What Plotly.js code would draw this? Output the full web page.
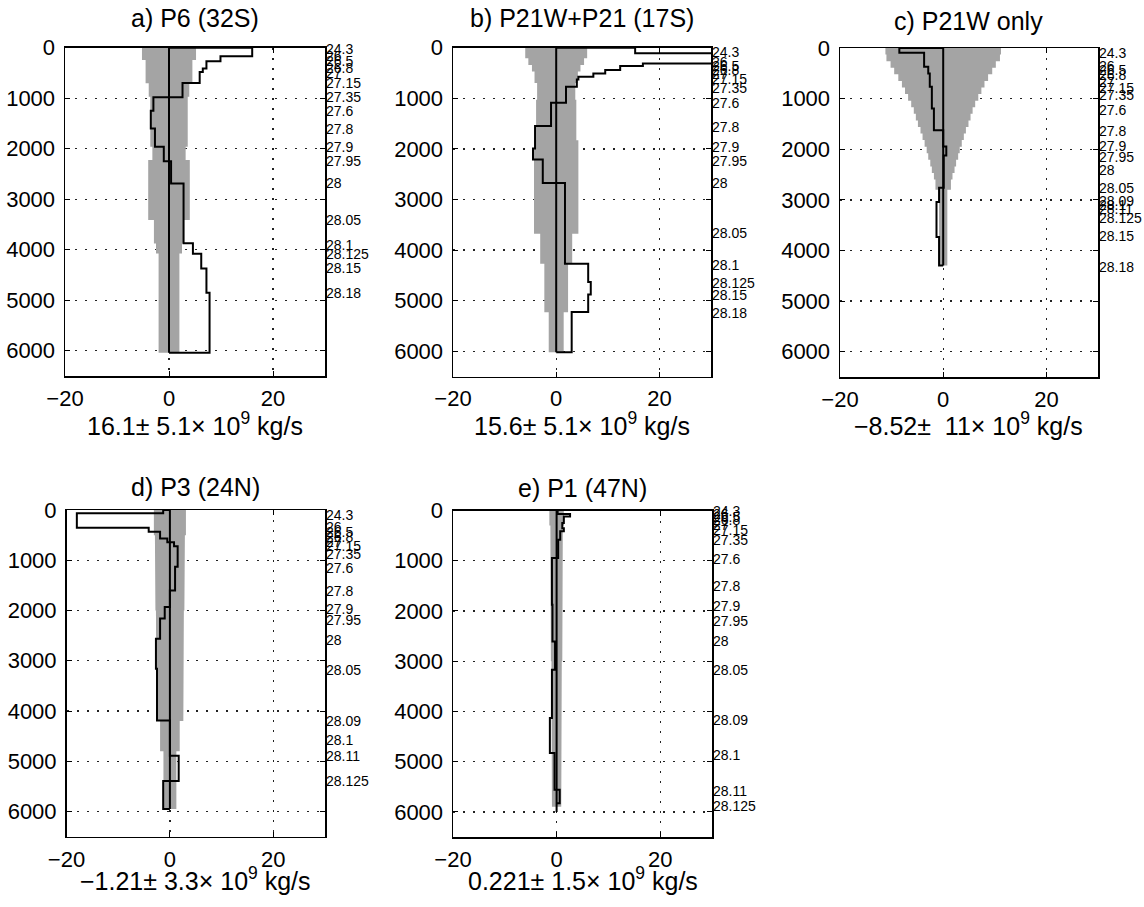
<!DOCTYPE html>
<html>
<head>
<meta charset="utf-8">
<script src="https://cdn.plot.ly/plotly-3.0.1.min.js"></script>
<style>html,body{margin:0;padding:0;background:#fff;}#chart{width:1144px;height:907px;}</style>
</head>
<body>
<div id="chart"></div>
<script>
// ---------- data ----------
const panelTitles = ['a) P6 (32S)', 'b) P21W+P21 (17S)', 'c) P21W only', 'd) P3 (24N)', 'e) P1 (47N)'];
const panelTotals = ['16.1', '15.6', '\u22128.52', '\u22121.21', '0.221'];
const panelErrors = ['5.1', '5.1', '\u00A011', '3.3', '1.5'];

const xTicks = [-20, 0, 20];
const yTicks = [0, 1000, 2000, 3000, 4000, 5000, 6000];

// layer interfaces (m) and transport per layer (10^9 kg/s)
const aBounds = [0, 170, 270, 410, 480, 700, 980, 1250, 1600, 1960, 2250, 2690, 3870, 4080, 4370, 4850, 6040];
const aFlux   = [16.0, 9.9, 7.2, 6.5, 5.9, 2.6, -3.0, -3.5, -2.7, -1.0, 0.4, 2.8, 4.6, 6.2, 7.2, 7.8];
const aErrTop  = [0, 244, 706, 970, 1960, 2225, 3413, 3875, 4073];
const aErrHalf = [5.2, 4.5, 3.9, 3.6, 3.2, 4.0, 2.9, 2.5, 2.0];
const aErrBottom = 6040;
const aZeroEnd = 6040;
const aDens = ['24.3','26','26.5','26.8','27','27.15','27.35','27.6','27.8','27.9','27.95','28','28.05','28.1','28.125','28.15','28.18'];
const aDensDepth = [32, 164, 263, 409, 508, 693, 983, 1254, 1617, 1960, 2244, 2686, 3412, 3907, 4085, 4369, 4864];

const bBounds = [0, 112, 310, 362, 442, 508, 574, 627, 772, 1089, 1550, 1992, 2210, 2673, 4270, 4633, 4877, 5227, 6020];
const bFlux   = [15.3, 38, 16.8, 12.4, 9.5, 7.2, 4.3, 4.0, 1.9, -1.0, -4.1, -4.5, -2.6, 1.7, 6.2, 6.7, 6.2, 3.0];
const bErrTop  = [0, 210, 340, 470, 700, 1030, 1830, 3680, 4270, 5230];
const bErrHalf = [6.0, 5.4, 4.7, 4.2, 3.7, 3.9, 4.3, 3.1, 2.3, 1.45];
const bErrBottom = 6020;
const bZeroEnd = 6020;
const bDens = ['24.3','26','26.5','26.8','27','27.15','27.35','27.6','27.8','27.9','27.95','28','28.05','28.1','28.125','28.15','28.18'];
const bDensDepth = [92, 277, 363, 442, 521, 620, 805, 1102, 1564, 1960, 2237, 2686, 3656, 4289, 4652, 4896, 5239];

const cBounds = [0, 93, 370, 502, 766, 1195, 1624, 1947, 2125, 2760, 3043, 3736, 4297];
const cFlux   = [-8.5, -3.7, -2.9, -2.6, -2.2, -1.8, 0.0, 0.6, 0.1, -0.8, -1.3, -0.8];
const cErrTop  = [0, 130, 260, 390, 520, 650, 780, 910, 1040, 1170, 1300, 1430, 1560, 1690, 1820, 1950, 2080, 2210, 2340, 2470, 2600, 2800];
const cErrHalf = [11.2, 11.0, 10.2, 9.5, 8.7, 8.0, 7.4, 6.8, 6.2, 5.7, 5.3, 4.9, 4.4, 4.0, 3.6, 3.2, 2.9, 2.5, 2.2, 1.8, 1.5, 0.8];
const cErrBottom = 4297;
const cZeroEnd = 4297;
const cDens = ['24.3','26','26.5','26.8','27','27.15','27.35','27.6','27.8','27.9','27.95','28','28.05','28.09','28.1','28.11','28.125','28.15','28.18'];
const cDensDepth = [92, 356, 441, 540, 673, 785, 936, 1220, 1649, 1946, 2158, 2421, 2772, 3015, 3095, 3180, 3358, 3709, 4336];

const dBounds = [0, 66, 353, 432, 565, 640, 720, 1130, 1600, 1930, 2160, 2560, 3160, 4190, 4890, 5390, 5950];
const dFlux   = [-1.3, -18.0, -4.1, -1.9, -0.5, 0.8, 1.5, 1.0, 0, -1.0, -1.9, -2.7, -2.5, 0, 1.7, -1.3];
const dErrTop  = [0, 500, 1000, 2000, 3000, 4200, 4800];
const dErrHalf = [3.1, 2.9, 2.8, 2.7, 2.6, 1.9, 1.25];
const dErrBottom = 5950;
const dZeroEnd = 5950;
const dDens = ['24.3','26','26.5','26.8','27','27.15','27.35','27.6','27.8','27.9','27.95','28','28.05','28.09','28.1','28.11','28.125'];
const dDensDepth = [100, 346, 432, 532, 632, 718, 884, 1164, 1610, 1962, 2195, 2580, 3179, 4203, 4575, 4888, 5400];

const eBounds = [0, 72, 119, 251, 351, 415, 580, 948, 1877, 2607, 3170, 4132, 4830, 5560, 5830];
const eFlux   = [0.2, 2.6, 1.4, 1.1, 1.4, 0.7, 0.3, -0.9, -0.8, -0.3, -0.9, -1.3, -0.4, 0.6];
const eErrTop  = [0, 300, 1000, 3000, 5000];
const eErrHalf = [1.4, 1.2, 1.1, 1.0, 0.9];
const eErrBottom = 5900;
const eZeroEnd = 6000;
const eDens = ['24.3','26','26.5','26.8','27','27.15','27.35','27.6','27.8','27.9','27.95','28','28.05','28.09','28.1','28.11','28.125'];
const eDensDepth = [10, 66, 133, 199, 285, 384, 584, 968, 1499, 1910, 2209, 2593, 3184, 4165, 4861, 5592, 5877];

// ---------- layout geometry (pixels in 1144x907 figure) ----------
const W = 1144, H = 907;
const boxes = [
  {x0: 65,  x1: 325,  y0: 47.7, y1: 376},
  {x0: 453, x1: 711,  y0: 47.7, y1: 376.5},
  {x0: 840, x1: 1098, y0: 48,   y1: 377},
  {x0: 66.5,x1: 325,  y0: 510,  y1: 836.7},
  {x0: 453, x1: 712,  y0: 510.5,y1: 837}
];
const titleY = [18, 18, 21, 487, 488];
const labelY = [424, 424, 424, 879, 879];

const panels = [
  {b: aBounds, f: aFlux, et: aErrTop, eh: aErrHalf, eb: aErrBottom, z: aZeroEnd, dl: aDens, dd: aDensDepth},
  {b: bBounds, f: bFlux, et: bErrTop, eh: bErrHalf, eb: bErrBottom, z: bZeroEnd, dl: bDens, dd: bDensDepth},
  {b: cBounds, f: cFlux, et: cErrTop, eh: cErrHalf, eb: cErrBottom, z: cZeroEnd, dl: cDens, dd: cDensDepth},
  {b: dBounds, f: dFlux, et: dErrTop, eh: dErrHalf, eb: dErrBottom, z: dZeroEnd, dl: dDens, dd: dDensDepth},
  {b: eBounds, f: eFlux, et: eErrTop, eh: eErrHalf, eb: eErrBottom, z: eZeroEnd, dl: eDens, dd: eDensDepth}
];

function stepOutline(bounds, flux) {
  const x = [0], y = [bounds[0]];
  for (let i = 0; i < flux.length; i++) {
    x.push(flux[i], flux[i]);
    y.push(bounds[i], bounds[i + 1]);
  }
  x.push(0); y.push(bounds[bounds.length - 1]);
  return {x, y};
}
function errPoly(tops, halves, bottom) {
  const edges = tops.concat([bottom]);
  const x = [], y = [];
  for (let i = 0; i < halves.length; i++) { x.push(halves[i], halves[i]); y.push(edges[i], edges[i + 1]); }
  for (let i = halves.length - 1; i >= 0; i--) { x.push(-halves[i], -halves[i]); y.push(edges[i + 1], edges[i]); }
  return {x, y};
}

const FONT = 'Liberation Sans, Arial, Helvetica, sans-serif';
const traces = [];
const layout = {
  width: W, height: H,
  margin: {l: 0, r: 0, t: 0, b: 0},
  paper_bgcolor: '#ffffff', plot_bgcolor: '#ffffff',
  showlegend: false,
  font: {family: FONT, color: '#000'},
  annotations: []
};

panels.forEach((p, i) => {
  const k = i + 1, ko = i + 6;
  const xa = 'x' + k, ya = 'y' + k, yo = 'y' + ko;
  const bx = boxes[i];
  const ep = errPoly(p.et, p.eh, p.eb);
  traces.push({x: ep.x, y: ep.y, xaxis: xa, yaxis: ya, mode: 'lines', fill: 'toself',
    fillcolor: '#a4a4a4', line: {width: 0, color: 'rgba(0,0,0,0)'}, hoverinfo: 'skip'});
  traces.push({x: [0, 0], y: [0, p.z], xaxis: xa, yaxis: ya, mode: 'lines',
    line: {color: '#000', width: 2}, hoverinfo: 'skip'});
  const so = stepOutline(p.b, p.f);
  traces.push({x: so.x, y: so.y, xaxis: xa, yaxis: ya, mode: 'lines',
    line: {color: '#000', width: 2}, hoverinfo: 'skip'});
  traces.push({x: [null], y: [null], xaxis: xa, yaxis: yo, mode: 'lines', hoverinfo: 'skip'});

  const xdom = [bx.x0 / W, bx.x1 / W];
  const ydom = [1 - bx.y1 / H, 1 - bx.y0 / H];
  const grid = {showgrid: true, gridcolor: '#222', gridwidth: 1.3, griddash: '2px,8px'};
  layout['xaxis' + (k === 1 ? '' : k)] = Object.assign({
    domain: xdom, anchor: ya, range: [-20, 30], tickmode: 'array', tickvals: xTicks,
    ticks: 'inside', ticklen: 5, tickcolor: '#000', showline: true, linecolor: '#000', linewidth: 1.5,
    mirror: 'ticks', zeroline: false, tickfont: {size: 22, family: FONT, color: '#000'},
    ticklabelstandoff: 2, fixedrange: true
  }, grid);
  layout['yaxis' + (k === 1 ? '' : k)] = Object.assign({
    domain: ydom, anchor: xa, range: [6500, 0], tickmode: 'array', tickvals: yTicks,
    ticks: 'inside', ticklen: 5, tickcolor: '#000', showline: true, linecolor: '#000', linewidth: 1.5,
    mirror: 'ticks', zeroline: false, tickfont: {size: 22, family: FONT, color: '#000'},
    ticklabelstandoff: 4, fixedrange: true
  }, grid);
  layout['yaxis' + ko] = {
    overlaying: ya, side: 'right', anchor: xa, range: [6500, 0], tickmode: 'array',
    tickvals: p.dd, ticktext: p.dl, ticks: '', showgrid: false, zeroline: false, showline: false,
    tickfont: {size: 14, family: FONT, color: '#000'}, ticklabelstandoff: 0, fixedrange: true
  };

  const cx = (bx.x0 + bx.x1) / 2 / W;
  layout.annotations.push({
    text: panelTitles[i], xref: 'paper', yref: 'paper', x: cx, y: 1 - titleY[i] / H,
    xanchor: 'center', yanchor: 'middle', showarrow: false,
    font: {size: 25, family: FONT, color: '#000'}
  });
  layout.annotations.push({
    text: panelTotals[i] + '\u00B1 ' + panelErrors[i] + '\u00D7 10<sup>9</sup> kg/s',
    xref: 'paper', yref: 'paper', x: cx, y: 1 - labelY[i] / H,
    xanchor: 'center', yanchor: 'middle', showarrow: false,
    font: {size: 25, family: FONT, color: '#000'}
  });
});

Plotly.newPlot('chart', traces, layout, {staticPlot: true, displayModeBar: false});
</script>
</body>
</html>
